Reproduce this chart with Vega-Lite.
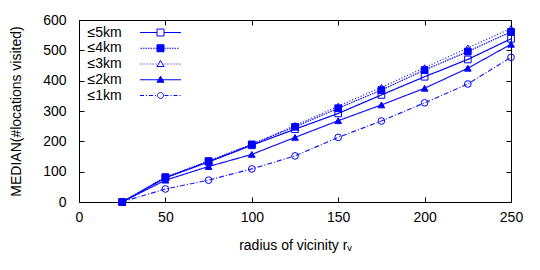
{
  "$schema": "https://vega.github.io/schema/vega-lite/v6.json",
  "width": 432,
  "height": 182,
  "autosize": "none",
  "padding": {"left": 79, "top": 20, "right": 29, "bottom": 68},
  "config": {
    "font": "Liberation Sans",
    "view": {"stroke": "#000000", "strokeWidth": 1},
    "axis": {"labelFont": "Liberation Sans", "titleFont": "Liberation Sans", "labelFontSize": 14, "titleFontSize": 14, "labelColor": "#000", "titleColor": "#000", "titleFontWeight": "normal", "grid": false, "domain": false, "tickColor": "#000", "tickSize": -5, "tickWidth": 1, "labelFlush": false}
  },
  "data": {"values": [
    {"r": 25, "series": "≤5km", "v": 0}, {"r": 50, "series": "≤5km", "v": 80}, {"r": 75, "series": "≤5km", "v": 132}, {"r": 100, "series": "≤5km", "v": 187}, {"r": 125, "series": "≤5km", "v": 240}, {"r": 150, "series": "≤5km", "v": 292}, {"r": 175, "series": "≤5km", "v": 353}, {"r": 200, "series": "≤5km", "v": 413}, {"r": 225, "series": "≤5km", "v": 470}, {"r": 250, "series": "≤5km", "v": 538},
    {"r": 25, "series": "≤4km", "v": 0}, {"r": 50, "series": "≤4km", "v": 82}, {"r": 75, "series": "≤4km", "v": 135}, {"r": 100, "series": "≤4km", "v": 190}, {"r": 125, "series": "≤4km", "v": 248}, {"r": 150, "series": "≤4km", "v": 309}, {"r": 175, "series": "≤4km", "v": 369}, {"r": 200, "series": "≤4km", "v": 435}, {"r": 225, "series": "≤4km", "v": 496}, {"r": 250, "series": "≤4km", "v": 561},
    {"r": 25, "series": "≤3km", "v": 0}, {"r": 50, "series": "≤3km", "v": 80}, {"r": 75, "series": "≤3km", "v": 134}, {"r": 100, "series": "≤3km", "v": 190}, {"r": 125, "series": "≤3km", "v": 252}, {"r": 150, "series": "≤3km", "v": 316}, {"r": 175, "series": "≤3km", "v": 378}, {"r": 200, "series": "≤3km", "v": 443}, {"r": 225, "series": "≤3km", "v": 508}, {"r": 250, "series": "≤3km", "v": 572},
    {"r": 25, "series": "≤2km", "v": 0}, {"r": 50, "series": "≤2km", "v": 72}, {"r": 75, "series": "≤2km", "v": 117}, {"r": 100, "series": "≤2km", "v": 157}, {"r": 125, "series": "≤2km", "v": 213}, {"r": 150, "series": "≤2km", "v": 268}, {"r": 175, "series": "≤2km", "v": 320}, {"r": 200, "series": "≤2km", "v": 375}, {"r": 225, "series": "≤2km", "v": 441}, {"r": 250, "series": "≤2km", "v": 520},
    {"r": 25, "series": "≤1km", "v": 0}, {"r": 50, "series": "≤1km", "v": 43}, {"r": 75, "series": "≤1km", "v": 72}, {"r": 100, "series": "≤1km", "v": 109}, {"r": 125, "series": "≤1km", "v": 152}, {"r": 150, "series": "≤1km", "v": 213}, {"r": 175, "series": "≤1km", "v": 267}, {"r": 200, "series": "≤1km", "v": 327}, {"r": 225, "series": "≤1km", "v": 389}, {"r": 250, "series": "≤1km", "v": 477}
  ]},
  "layer": [
    {
      "mark": {"type": "line", "color": "#0000ff", "clip": false},
      "encoding": {
        "x": {"field": "r", "type": "quantitative", "scale": {"domain": [0, 250], "nice": false}, "axis": {"values": [0, 50, 100, 150, 200, 250], "title": "radius of vicinity rᵥ", "labelPadding": 13, "titlePadding": 14}},
        "y": {"field": "v", "type": "quantitative", "scale": {"domain": [0, 600], "nice": false}, "axis": {"values": [0, 100, 200, 300, 400, 500, 600], "title": "MEDIAN(#locations visited)", "labelPadding": 18, "titlePadding": 19}},
        "strokeDash": {"field": "series", "type": "nominal", "scale": {"domain": ["≤5km", "≤4km", "≤3km", "≤2km", "≤1km"], "range": [[1, 0], [1.5, 1], [1, 2], [1, 0], [5, 2, 1, 2]]}, "legend": null},
        "opacity": {"field": "series", "type": "nominal", "scale": {"domain": ["≤5km", "≤4km", "≤3km", "≤2km", "≤1km"], "range": [1, 0.9, 0.7, 0.55, 0.9]}, "legend": null},
        "strokeWidth": {"field": "series", "type": "nominal", "scale": {"domain": ["≤5km", "≤4km", "≤3km", "≤2km", "≤1km"], "range": [1.2, 1.2, 1, 1, 1]}, "legend": null}
      }
    },
    {
      "mark": {"type": "point", "filled": true, "stroke": "#0000ff", "strokeWidth": 1, "size": 45, "opacity": 1, "clip": false},
      "encoding": {
        "x": {"field": "r", "type": "quantitative", "scale": {"domain": [0, 250], "nice": false}, "axis": {"orient": "top", "values": [0, 50, 100, 150, 200, 250], "labels": false, "title": null}},
        "y": {"field": "v", "type": "quantitative", "scale": {"domain": [0, 600], "nice": false}, "axis": {"orient": "right", "values": [0, 100, 200, 300, 400, 500, 600], "labels": false, "title": null}},
        "shape": {"field": "series", "type": "nominal", "scale": {"domain": ["≤5km", "≤4km", "≤3km", "≤2km", "≤1km"], "range": ["square", "square", "triangle-up", "triangle-up", "circle"]}, "legend": null},
        "fill": {"field": "series", "type": "nominal", "scale": {"domain": ["≤5km", "≤4km", "≤3km", "≤2km", "≤1km"], "range": ["transparent", "#0000ff", "transparent", "#0000ff", "transparent"]}, "legend": null}
      }
    },
    {
      "transform": [{"filter": "false"}],
      "mark": {"type": "point", "filled": false, "color": "#0000ff", "stroke": "#0000ff", "strokeWidth": 1, "opacity": 1},
      "encoding": {
        "x": {"field": "r", "type": "quantitative", "axis": null},
        "y": {"field": "v", "type": "quantitative", "axis": null},
        "shape": {"field": "series", "type": "nominal", "scale": {"domain": ["≤5km", "≤4km", "≤3km", "≤2km", "≤1km"], "range": [
          "M45,0H62M69,0H86M62,-3.5H69V3.5H62Z",
          "M45.5,0h1.5m1,0h1.5m1,0h1.5m1,0h1.5m1,0h1.5m1,0h1.5m1,0h1.5M69.5,0h1.5m1,0h1.5m1,0h1.5m1,0h1.5m1,0h1.5m1,0h1.5M62,-3.5H69V3.5H62Z",
          "M45.5,0h1m2,0h1m2,0h1m2,0h1m2,0h1m2,0h1M69.5,0h1m2,0h1m2,0h1m2,0h1m2,0h1m2,0h1M65.5,-3.5L69,2.5H62Z",
          "M45,0H86M65.5,-3.5L69,2.5H62Z",
          "M45,0h4m2,0h1m2,0h4m2,0h1M69.5,0h4m2,0h1m2,0h4m2,0h1M68.5,0A3,3,0,1,1,62.5,0A3,3,0,1,1,68.5,0"
        ]}, "legend": {"orient": "none", "legendX": 9, "legendY": 5.5, "title": null, "padding": 0, "symbolSize": 4, "symbolStrokeColor": "#0000ff", "symbolStrokeWidth": 1, "symbolOpacity": 1, "labelFontSize": 14, "labelFont": "Liberation Sans", "labelColor": "#000", "labelOffset": -14.5, "rowPadding": 1.75}},
        "fill": {"field": "series", "type": "nominal", "scale": {"domain": ["≤5km", "≤4km", "≤3km", "≤2km", "≤1km"], "range": ["transparent", "#0000ff", "transparent", "#0000ff", "transparent"]}},
        "stroke": {"field": "series", "type": "nominal", "scale": {"domain": ["≤5km", "≤4km", "≤3km", "≤2km", "≤1km"], "range": ["#0000ff", "#0000ff", "#0000ff", "#0000ff", "#0000ff"]}}
      }
    }
  ],
  "resolve": {"axis": {"x": "independent", "y": "independent"}, "scale": {"shape": "independent", "fill": "independent", "stroke": "independent"}}
}
